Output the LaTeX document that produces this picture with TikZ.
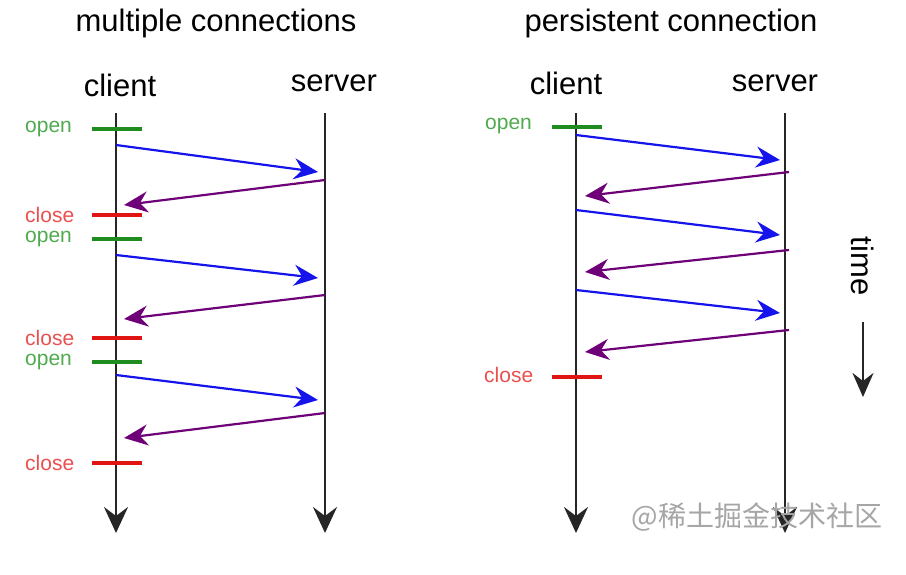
\documentclass[tikz,border=0pt]{standalone}
\usepackage{fontspec}
\setmainfont{Liberation Sans}
\newfontfamily\cjkfont{Noto Sans CJK SC}
\usetikzlibrary{arrows.meta}
\definecolor{tickgreen}{RGB}{30,140,30}
\definecolor{labgreen}{RGB}{80,170,80}
\definecolor{tickred}{RGB}{225,20,20}
\definecolor{labred}{RGB}{235,80,80}
\definecolor{msgblue}{RGB}{20,20,235}
\definecolor{msgpurple}{RGB}{110,0,120}
\tikzset{
  title/.style={font=\fontsize{31}{36}\selectfont, inner sep=0pt},
  role/.style={font=\fontsize{31}{36}\selectfont, inner sep=0pt},
  lab/.style={font=\fontsize{21}{25}\selectfont, inner sep=0pt, anchor=west},
  openlab/.style={lab, text=labgreen},
  closelab/.style={lab, text=labred},
  axis/.style={line width=2.8pt, draw=black!85, -{Stealth[length=26pt,width=24pt,inset=9pt]}},
  opentick/.style={line width=4pt, draw=tickgreen},
  closetick/.style={line width=4pt, draw=tickred},
  req/.style={line width=2.2pt, draw=msgblue, -{Stealth[length=24pt,width=21pt,inset=8pt]}},
  resp/.style={line width=2.2pt, draw=msgpurple, -{Stealth[length=24pt,width=21pt,inset=8pt]}},
}
\begin{document}
\begin{tikzpicture}[x=1pt,y=-1pt]
\useasboundingbox[fill=white] (0,0) rectangle (906,574);
% ---------- left panel ----------
\node[title] (t1) at (216,23) {multiple connections};
\node[role] (c1) at (120,85) {client};
\node[role] (s1) at (334,83) {server};
\coordinate (c1top) at (116,113);
\coordinate (c1bot) at (116,533);
\coordinate (s1top) at (325,113);
\coordinate (s1bot) at (325,533);
\draw[axis] (c1top) -- (c1bot);
\draw[axis] (s1top) -- (s1bot);
% ticks
\foreach \n/\y/\k in {o1/129/open, c2/215/close, o3/239/open, c4/338/close, o5/362/open, c6/463/close}{
  \coordinate (L\n a) at (92,\y);
  \coordinate (L\n b) at (142,\y);
  \draw[\k tick] (L\n a) -- (L\n b);
  \node[\k lab] (L\n t) at (25,\y) {\k};
}
% messages
\foreach \i/\ya/\yb/\yc/\yd in {1/145/172/180/205, 2/255/278/295/319, 3/375/400/413/438}{
  \coordinate (Lq\i a) at (116,\ya);
  \coordinate (Lq\i b) at (318,\yb);
  \coordinate (Lr\i a) at (325,\yc);
  \coordinate (Lr\i b) at (124,\yd);
  \draw[req] (Lq\i a) -- (Lq\i b);
  \draw[resp] (Lr\i a) -- (Lr\i b);
}
% ---------- right panel ----------
\node[title] (t2) at (671,23) {persistent connection};
\node[role] (c2) at (566,83) {client};
\node[role] (s2) at (775,83) {server};
\coordinate (c2top) at (576,113);
\coordinate (c2bot) at (576,533);
\coordinate (s2top) at (785,113);
\coordinate (s2bot) at (785,533);
\draw[axis] (c2top) -- (c2bot);
\draw[axis] (s2top) -- (s2bot);
\coordinate (Ropena) at (552,127);
\coordinate (Ropenb) at (602,127);
\draw[opentick] (Ropena) -- (Ropenb);
\node[openlab] (Ropent) at (485,126) {open};
\coordinate (Rclosea) at (552,377);
\coordinate (Rcloseb) at (602,377);
\draw[closetick] (Rclosea) -- (Rcloseb);
\node[closelab] (Rcloset) at (484,375) {close};
\foreach \i/\ya/\yb/\yc/\yd in {1/135/160/172/196, 2/210/235/250/272, 3/290/313/330/352}{
  \coordinate (Rq\i a) at (576,\ya);
  \coordinate (Rq\i b) at (780,\yb);
  \coordinate (Rr\i a) at (789,\yc);
  \coordinate (Rr\i b) at (585,\yd);
  \draw[req] (Rq\i a) -- (Rq\i b);
  \draw[resp] (Rr\i a) -- (Rr\i b);
}
% time
\node[role, rotate=-90] (time) at (863,266) {time};
\coordinate (timea) at (863,322);
\coordinate (timeb) at (863,397);
\draw[line width=2.6pt, draw=black!85, -{Stealth[length=24pt,width=21pt,inset=8pt]}] (timea) -- (timeb);
% watermark
\node[font=\cjkfont\fontsize{28}{32}\selectfont, text=black!35, inner sep=0pt] (wm) at (757,517) {@稀土掘金技术社区};
\end{tikzpicture}
\end{document}
